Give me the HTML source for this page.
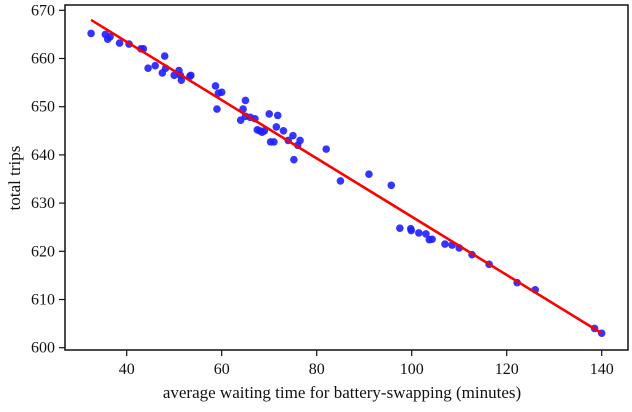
<!DOCTYPE html>
<html><head><meta charset="utf-8"><style>
body{margin:0;background:#fff}
svg text{font-family:"Liberation Serif",serif;font-size:16px;fill:#111}
svg text.title{font-size:17px}
</style></head><body>
<svg id="chart" width="632" height="407">
<rect x="65" y="5" width="563" height="345" fill="none" stroke="#111" stroke-width="1.5"/>
<g id="axes"></g>
<g id="pts"></g>
<g id="fit"></g>
<text class="title" x="342" y="398" text-anchor="middle">average waiting time for battery-swapping (minutes)</text>
<text class="title" transform="translate(20,178) rotate(-90)" text-anchor="middle">total trips</text>
</svg>
<script>
const xs=[32.5,35.5,36,36.5,38.5,40.5,43,43.5,44.5,46,47.5,48,48.2,50,51,51.5,51.3,53.5,53.3,58.7,59.3,59,60,64,64.5,65,65,66,67,67.5,68,68.5,69,70,70.3,71,71.5,71.8,73,74,75,75.2,76,76.5,82,85,91,95.7,97.5,99.8,99.9,101.5,103,103.7,104.3,107,108.5,110,112.7,116.3,122.2,126,138.5,140];
const ys=[665.2,665,664,664.5,663.2,663,662,662,658,658.5,657,660.5,658,656.5,657.5,655.5,656.5,656.5,656.3,654.3,652.8,649.5,653,647.2,649.5,651.3,648,647.8,647.5,645.2,645,644.7,645,648.5,642.7,642.7,645.8,648.2,645,643,644,639,642,643,641.2,634.6,636,633.7,624.8,624.7,624.3,623.8,623.6,622.4,622.5,621.5,621.3,620.7,619.3,617.3,613.5,612,604,603];
const fitX=[32.5,140];
const fitY=[668,603];
const xTicks=[40,60,80,100,120,140];
const yTicks=[600,610,620,630,640,650,660,670];
const X=v=>126.7+(v-40)*4.75;
const Y=v=>347.7-(v-600)*4.82;
const NS='http://www.w3.org/2000/svg';
function mk(t,a,p){const e=document.createElementNS(NS,t);for(const k in a)e.setAttribute(k,a[k]);p.appendChild(e);return e;}
const ax=document.getElementById('axes');
xTicks.forEach(t=>{
 const l=mk('line',{x1:X(t),x2:X(t),y1:350,y2:356,stroke:'#111','stroke-width':1.2},ax);
 
 
 const s=mk('text',{x:X(t),y:374,'text-anchor':'middle'},ax);s.textContent=t;
 
 
});
yTicks.forEach(t=>{
 const l=mk('line',{x1:59,x2:65,y1:Y(t),y2:Y(t),stroke:'#111','stroke-width':1.2},ax);
 
 
 const s=mk('text',{x:55,y:Y(t)+5,'text-anchor':'end'},ax);s.textContent=t;
 
 
});
const pg=document.getElementById('pts');
xs.forEach((x,i)=>{
 const c=mk('circle',{cx:X(x),cy:Y(ys[i]),r:3.8,fill:'#1f1fff','fill-opacity':0.9},pg);
 
 
});
const fl=mk('line',{x1:X(fitX[0]),y1:Y(fitY[0]),x2:X(fitX[1]),y2:Y(fitY[1]),stroke:'#f00','stroke-width':2.6},document.getElementById('fit'));


</script>
</body></html>
